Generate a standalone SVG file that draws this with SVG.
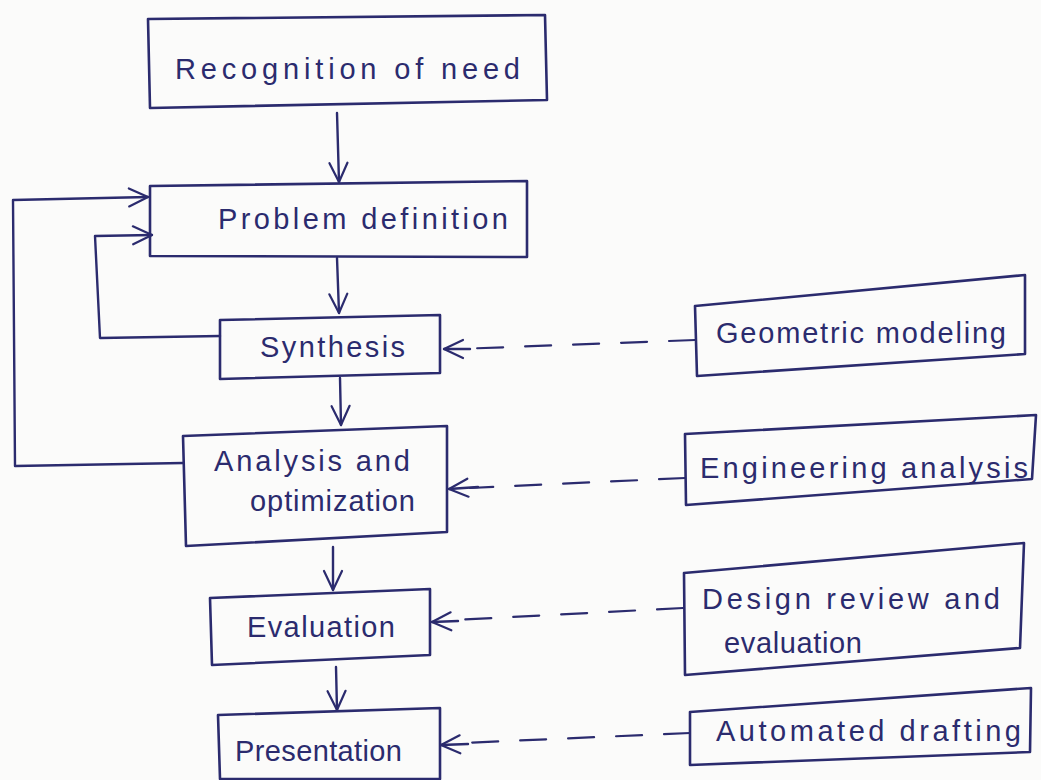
<svg xmlns="http://www.w3.org/2000/svg" width="1041" height="780" viewBox="0 0 1041 780">
  <style>
    .box { fill: none; stroke: #2b2b6e; stroke-width: 2.6; stroke-linejoin: round; stroke-linecap: round; }
    .wire { fill: none; stroke: #2b2b6e; stroke-width: 2.4; stroke-linecap: round; stroke-linejoin: round; }
    .dash { fill: none; stroke: #2b2b6e; stroke-width: 2.2; stroke-dasharray: 26 22; stroke-linecap: round; }
    .lbl { font-family: "Liberation Sans", "DejaVu Sans", sans-serif; font-size: 29px; fill: #2b2b6e; }
  </style>
  <defs>
    <marker id="vhead" viewBox="0 0 24 24" refX="22" refY="12" markerWidth="24" markerHeight="24" markerUnits="userSpaceOnUse" orient="auto">
      <path d="M3,3 L22,12 L3,21" fill="none" stroke="#2b2b6e" stroke-width="2.2" stroke-linecap="round" stroke-linejoin="round"/>
    </marker>
  </defs>

  <rect width="1041" height="780" fill="#fbfbfa"/>

  <!-- connectors -->
  <g id="connectors">
    <!-- main flow -->
    <path class="wire" d="M337,113 L339,182" marker-end="url(#vhead)"/>
    <path class="wire" d="M337,258 L339,313" marker-end="url(#vhead)"/>
    <path class="wire" d="M340,378 L341,425" marker-end="url(#vhead)"/>
    <path class="wire" d="M333,547 L333,590" marker-end="url(#vhead)"/>
    <path class="wire" d="M336,667 L337,710" marker-end="url(#vhead)"/>
    <!-- feedback loops into problem definition -->
    <path class="wire" d="M183,463 L15,466 L13,200 L148,197" marker-end="url(#vhead)"/>
    <path class="wire" d="M220,336 L100,338 L95,236 L152,235" marker-end="url(#vhead)"/>
    <!-- dashed tool links -->
    <path class="dash" d="M695,340 L458,349"/>
    <path class="wire" d="M470,349 L444,349" marker-end="url(#vhead)"/>
    <path class="dash" d="M685,478 L470,488"/>
    <path class="wire" d="M478,487 L449,489" marker-end="url(#vhead)"/>
    <path class="dash" d="M683,608 L455,620"/>
    <path class="wire" d="M458,621 L432,622" marker-end="url(#vhead)"/>
    <path class="dash" d="M690,733 L462,743"/>
    <path class="wire" d="M468,744 L441,745" marker-end="url(#vhead)"/>
  </g>

  <!-- process steps -->
  <g id="recognition">
    <path class="box" d="M148,19 L545,15 L547,100 L150,108 Z"/>
    <text class="lbl" x="175" y="79" textLength="345" lengthAdjust="spacing">Recognition of need</text>
  </g>
  <g id="problem">
    <path class="box" d="M150,186 L527,181 L527,257 L150,256 Z"/>
    <text class="lbl" x="218" y="229" textLength="290" lengthAdjust="spacing">Problem definition</text>
  </g>
  <g id="synthesis">
    <path class="box" d="M220,320 L440,315 L440,373 L220,379 Z"/>
    <text class="lbl" x="260" y="357" textLength="145" lengthAdjust="spacing">Synthesis</text>
  </g>
  <g id="analysis">
    <path class="box" d="M183,436 L447,426 L447,532 L186,546 Z"/>
    <text class="lbl" x="214" y="471" textLength="196" lengthAdjust="spacing">Analysis and</text>
    <text class="lbl" x="250" y="511" textLength="165" lengthAdjust="spacing">optimization</text>
  </g>
  <g id="evaluation">
    <path class="box" d="M210,598 L430,589 L430,655 L212,665 Z"/>
    <text class="lbl" x="247" y="637" textLength="148" lengthAdjust="spacing">Evaluation</text>
  </g>
  <g id="presentation">
    <path class="box" d="M218,715 L440,708 L440,779 L220,779 Z"/>
    <text class="lbl" x="235" y="761" textLength="167" lengthAdjust="spacing">Presentation</text>
  </g>

  <!-- supporting tools -->
  <g id="geometric">
    <path class="box" d="M695,306 L1025,275 L1025,354 L697,376 Z"/>
    <text class="lbl" x="716" y="343" textLength="290" lengthAdjust="spacing">Geometric modeling</text>
  </g>
  <g id="engineering">
    <path class="box" d="M685,434 L1036,415 L1032,479 L686,505 Z"/>
    <text class="lbl" x="700" y="478" textLength="328" lengthAdjust="spacing">Engineering analysis</text>
  </g>
  <g id="design">
    <path class="box" d="M684,573 L1024,543 L1020,648 L685,675 Z"/>
    <text class="lbl" x="702" y="609" textLength="298" lengthAdjust="spacing">Design review and</text>
    <text class="lbl" x="724" y="653" textLength="138" lengthAdjust="spacing">evaluation</text>
  </g>
  <g id="automated">
    <path class="box" d="M690,712 L1031,688 L1030,752 L690,765 Z"/>
    <text class="lbl" x="716" y="741" textLength="305" lengthAdjust="spacing">Automated drafting</text>
  </g>
</svg>
